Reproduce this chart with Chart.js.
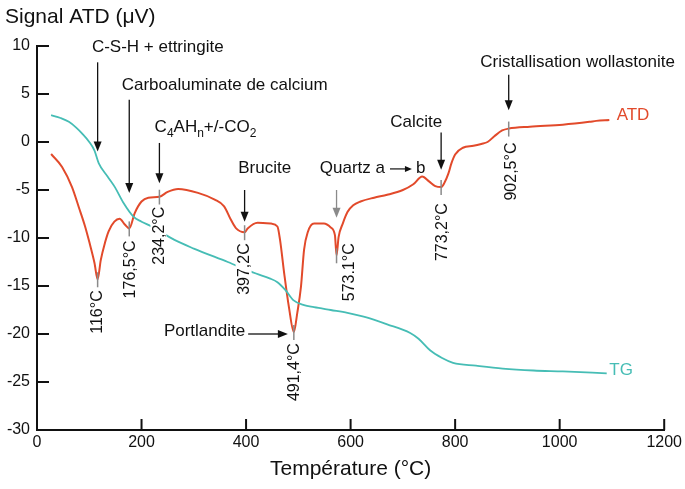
<!DOCTYPE html>
<html><head><meta charset="utf-8">
<script src="https://cdn.jsdelivr.net/npm/chart.js@4.4.1/dist/chart.umd.min.js"></script>
<style>html,body{margin:0;padding:0;background:#fff}</style>
</head><body><canvas id="c" width="685" height="489"></canvas>
<script>
// ---- data ----
const xTicks = [0, 200, 400, 600, 800, 1000, 1200];
const yTicks = [10, 5, 0, -5, -10, -15, -20, -25, -30];

const atdT = [27,48,67,80,92,100,110,116,122,130,137,148,158,168,176.5,187,200,213,234.2,250,270,308,340,358,371,381,397.2,403,422,448,460,465,473,482,491.4,498,505,511,518,530,549,562,570,573.1,577,585,594,605,619,645,670,700,720,737,750,762,773.2,780,787,793,800,815,835,850,862,875,890,902.5,943,1006,1057,1070,1095];
const atdV = [-1.25,-2.6,-4.7,-6.8,-8.8,-10.4,-12.6,-14.3,-12.3,-10.5,-9.3,-8.3,-8.0,-8.6,-9.0,-7.4,-6.2,-5.8,-5.7,-5.2,-4.9,-5.3,-6.0,-6.7,-8.1,-9.0,-9.4,-9.0,-8.4,-8.5,-8.8,-10.2,-13.7,-17.2,-19.8,-17.8,-15.1,-11.2,-9.4,-8.5,-8.5,-8.9,-9.7,-11.8,-9.9,-8.5,-7.3,-6.6,-6.2,-5.8,-5.5,-5.0,-4.4,-3.6,-4.1,-4.6,-4.7,-4.2,-3.3,-2.2,-1.3,-0.6,-0.4,-0.2,0.0,0.6,1.2,1.4,1.6,1.8,2.1,2.2,2.3];

const tgT = [27,45,61,75,86,100,110,118,135,149,165,185,200,219,263,300,365,419,445,460,475,491,511,530,562,594,625,670,714,730,752,775,796,840,891,950,1006,1090];
const tgV = [2.8,2.5,2.1,1.5,0.9,0.0,-0.9,-2.2,-3.6,-4.7,-6.3,-7.8,-8.3,-8.8,-10.2,-11.1,-12.5,-13.7,-14.2,-14.6,-15.4,-16.5,-17.0,-17.2,-17.5,-17.8,-18.2,-19.0,-19.9,-20.5,-21.7,-22.5,-23.0,-23.3,-23.6,-23.8,-23.9,-24.1];

// peak markers (temperature, ATD value, label)
const peakT = [116, 176.5, 234.2, 397.2, 491.4, 573.1, 773.2, 902.5];
const peakV = [-14.3, -9.0, -5.7, -9.4, -19.8, -11.8, -4.7, 1.4];
const peakText = ["116°C", "176,5°C", "234,2°C", "397,2C", "491,4°C", "573.1°C", "773,2°C", "902,5°C"];

// annotations: text, arrow temperature, arrow from/to (signal value)
const noteText = ["C-S-H + ettringite", "Carboaluminate de calcium", "C4AHn+/-CO2", "Brucite", "Quartz a", "Calcite", "Cristallisation wollastonite"];
const noteArrowT = [116, 176.5, 234.2, 397.2, 573.1, 773.2, 902.5];
const noteArrowFrom = [8.3, 4.4, -0.1, -5.0, -5.0, 1.0, 7.0];
const noteArrowTo = [-1.0, -5.3, -4.3, -8.3, -7.9, -2.9, 3.3];
const noteTextT = [105, 162, 225, 385, 541, 676, 848];
const noteTextV = [9.9, 5.9, 1.5, -2.7, -2.7, 2.1, 8.3];
const portlanditeText = "Portlandite";
const portlanditeArrow = [404, 480, -20]; // from T, to T, at value

// ---- layout / style (pixels) ----
const peakGap = [11, 12, 10, 11, 11, -12, 16, 14];
const peakDx  = [-1, 0, -1, -1, 0, 12, 0, 2];
const FONT = "'Liberation Sans', Arial, Helvetica, sans-serif";
const ATD_COLOR = "#e24a2b";
const TG_COLOR = "#46bdb5";

const annot = {
  id: 'annot',
  afterDatasetsDraw(chart) {
    const ctx = chart.ctx;
    const xs = chart.scales.x, ys = chart.scales.y;
    const X = v => xs.getPixelForValue(v), Y = v => ys.getPixelForValue(v);
    const line = (x1, y1, x2, y2) => { ctx.beginPath(); ctx.moveTo(x1, y1); ctx.lineTo(x2, y2); ctx.stroke(); };
    ctx.save();
    // inward ticks
    ctx.strokeStyle = '#111'; ctx.lineWidth = 2;
    xTicks.forEach(t => { if (t !== 0) line(X(t), Y(-30), X(t), Y(-30) - 11); });
    yTicks.forEach(t => line(X(0), Y(t), X(0) + 12, Y(t)));

    // peak markers and rotated labels
    ctx.font = "16px " + FONT;
    peakT.forEach((t, i) => {
      const x = X(t), yc = Y(peakV[i]);
      ctx.strokeStyle = '#8a8a8a'; ctx.lineWidth = 1.5;
      line(x, yc - 7, x, yc + 8);
      const w = ctx.measureText(peakText[i]).width;
      ctx.save();
      ctx.translate(x + peakDx[i], yc + peakGap[i]);
      ctx.rotate(-Math.PI / 2);
      ctx.fillStyle = '#fff';
      ctx.fillRect(-w - 2, -8, w + 4, 16);
      ctx.fillStyle = '#111';
      ctx.textAlign = 'right'; ctx.textBaseline = 'middle';
      ctx.fillText(peakText[i], 0, 1);
      ctx.restore();
    });

    // vertical arrows
    const arrowDown = (x, y1, y2, col) => {
      ctx.strokeStyle = col; ctx.fillStyle = col; ctx.lineWidth = 1.3;
      line(x, y1, x, y2 - 8);
      ctx.beginPath(); ctx.moveTo(x, y2); ctx.lineTo(x - 4, y2 - 10); ctx.lineTo(x + 4, y2 - 10); ctx.closePath(); ctx.fill();
    };
    noteArrowT.forEach((t, i) => {
      arrowDown(X(t), Y(noteArrowFrom[i]), Y(noteArrowTo[i]), i === 4 ? '#8a8a8a' : '#111');
    });

    // texts
    ctx.fillStyle = '#111'; ctx.textBaseline = 'middle'; ctx.textAlign = 'left';
    ctx.font = "17px " + FONT;
    noteText.forEach((s, i) => {
      const x = X(noteTextT[i]), y = Y(noteTextV[i]);
      if (i === 2) {
        const segs = [["C", 0], ["4", 1], ["AH", 0], ["n", 1], ["+/-CO", 0], ["2", 1]];
        let cx = x;
        segs.forEach(([txt, sub]) => {
          ctx.font = (sub ? "12px " : "17px ") + FONT;
          ctx.fillText(txt, cx, sub ? y + 6 : y);
          cx += ctx.measureText(txt).width;
        });
        ctx.font = "17px " + FONT;
      } else if (i === 4) {
        ctx.fillText(s, x, y);
        const e = x + ctx.measureText(s).width;
        ctx.strokeStyle = '#111'; ctx.lineWidth = 1.2;
        line(e + 5, y + 1, e + 22, y + 1);
        ctx.beginPath(); ctx.moveTo(e + 27, y + 1); ctx.lineTo(e + 20, y - 2); ctx.lineTo(e + 20, y + 4); ctx.closePath(); ctx.fill();
        ctx.fillText("b", e + 31, y);
      } else {
        ctx.fillText(s, x, y);
      }
    });

    // Portlandite with horizontal arrow
    {
      const xa = X(portlanditeArrow[0]), xb = X(portlanditeArrow[1]), ya = Y(portlanditeArrow[2]);
      ctx.textAlign = 'right';
      ctx.fillText(portlanditeText, xa - 3, ya - 3);
      ctx.strokeStyle = '#111'; ctx.lineWidth = 1.3;
      line(xa, ya, xb - 8, ya);
      ctx.beginPath(); ctx.moveTo(xb, ya); ctx.lineTo(xb - 10, ya - 4); ctx.lineTo(xb - 10, ya + 4); ctx.closePath(); ctx.fill();
    }

    // series labels
    ctx.textAlign = 'left';
    ctx.fillStyle = ATD_COLOR; ctx.fillText("ATD", X(1109), Y(2.8));
    ctx.fillStyle = TG_COLOR; ctx.fillText("TG", X(1095), Y(-23.8));

    // y title
    ctx.fillStyle = '#111'; ctx.font = "21px " + FONT;
    ctx.fillText("Signal ATD (μV)", 5, 17);
    ctx.restore();
  }
};

new Chart(document.getElementById('c'), {
  type: 'line',
  data: {
    datasets: [
      { label: 'TG', data: tgT.map((t, i) => ({ x: t, y: tgV[i] })), borderColor: TG_COLOR, borderWidth: 1.8, pointRadius: 0, cubicInterpolationMode: 'monotone', fill: false },
      { label: 'ATD', data: atdT.map((t, i) => ({ x: t, y: atdV[i] })), borderColor: ATD_COLOR, borderWidth: 2, pointRadius: 0, cubicInterpolationMode: 'monotone', fill: false }
    ]
  },
  options: {
    responsive: false, animation: false, devicePixelRatio: 1,
    layout: { padding: { top: 46, right: 18, left: 0, bottom: 0 } },
    plugins: { legend: { display: false }, tooltip: { enabled: false }, title: { display: false } },
    scales: {
      x: {
        type: 'linear', min: 0, max: 1200,
        afterBuildTicks: s => { s.ticks = xTicks.map(v => ({ value: v })); },
        grid: { display: false, drawTicks: false },
        border: { color: '#111', width: 2 },
        ticks: { color: '#111', font: { family: FONT, size: 16 }, padding: 3, maxRotation: 0, autoSkip: false, callback: v => String(v) },
        title: { display: true, text: 'Température (°C)', color: '#111', font: { family: FONT, size: 21 }, padding: { top: 2, bottom: 7 } },
        afterFit: s => { s.height = 59; }
      },
      y: {
        min: -30, max: 10,
        afterBuildTicks: s => { s.ticks = yTicks.map(v => ({ value: v })); },
        grid: { display: false, drawTicks: false },
        border: { color: '#111', width: 2 },
        ticks: { color: '#111', font: { family: FONT, size: 16 }, padding: 7, autoSkip: false, callback: v => String(v) },
        afterFit: s => { s.width = 37; }
      }
    }
  },
  plugins: [annot]
});
</script>
</body></html>
